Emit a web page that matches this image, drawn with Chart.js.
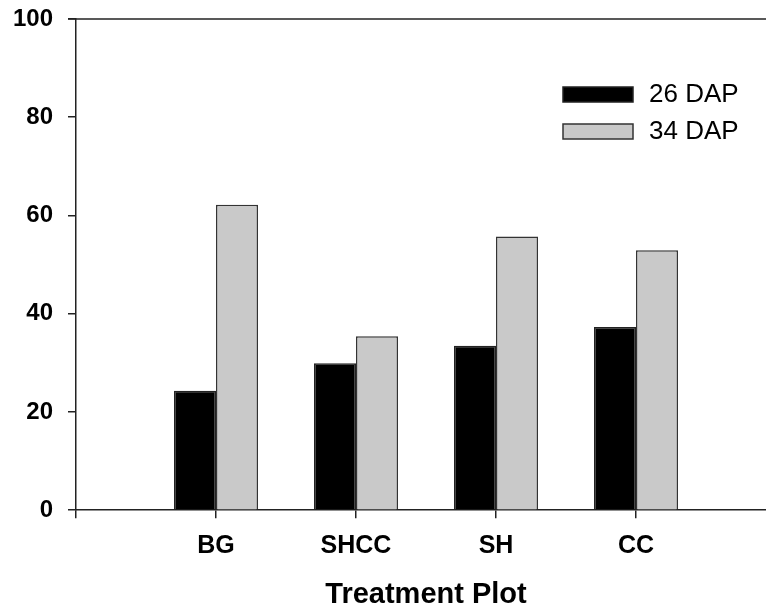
<!DOCTYPE html>
<html>
<head>
<meta charset="utf-8">
<script src="https://cdn.jsdelivr.net/npm/chart.js@4/dist/chart.umd.min.js"></script>
<style>
  html, body { margin: 0; padding: 0; background: #fff; overflow: hidden; }
  canvas { display: block; }
</style>
</head>
<body>
<canvas id="chart" width="776" height="613"></canvas>
<script>
const categories = ['BG', 'SHCC', 'SH', 'CC'];
const dap26 = [24.3, 29.9, 33.5, 37.3];
const dap34 = [62.2, 35.4, 55.7, 52.9];
const yTicks = [0, 20, 40, 60, 80, 100];

// empty slot on each side, like the original plot
const labels = ['', ...categories, ''];
const pad = arr => [null, ...arr, null];

const FONT = "'Liberation Sans', Arial, sans-serif";
const axisColor = '#222';

// frame line across the top of the plot + legend boxes
const extras = {
  id: 'extras',
  afterDraw(chart) {
    const { ctx, chartArea } = chart;
    ctx.save();
    ctx.strokeStyle = axisColor;
    ctx.lineWidth = 1.5;
    ctx.beginPath();
    ctx.moveTo(chartArea.left - 8, chartArea.top);
    ctx.lineTo(chartArea.right, chartArea.top);
    ctx.stroke();

    ctx.font = '26px ' + FONT;
    ctx.textBaseline = 'middle';
    chart.data.datasets.forEach((ds, i) => {
      const y = 87 + i * 37;
      ctx.fillStyle = ds.backgroundColor;
      ctx.fillRect(563, y, 70, 15);
      ctx.strokeStyle = ds.borderColor;
      ctx.lineWidth = 1.5;
      ctx.strokeRect(563, y, 70, 15);
      ctx.fillStyle = '#000';
      ctx.fillText(ds.label, 649, y + 8);
    });
    ctx.restore();
  }
};

new Chart(document.getElementById('chart'), {
  type: 'bar',
  data: {
    labels: labels,
    datasets: [
      { label: '26 DAP', data: pad(dap26), backgroundColor: '#000', borderColor: '#222', borderWidth: 1.5 },
      { label: '34 DAP', data: pad(dap34), backgroundColor: '#c9c9c9', borderColor: '#333', borderWidth: 1.5 }
    ]
  },
  options: {
    responsive: false,
    animation: false,
    layout: { padding: { top: 19, right: 0, bottom: 1, left: 0 } },
    datasets: { bar: { categoryPercentage: 0.6, barPercentage: 1 } },
    plugins: {
      legend: { display: false },
      tooltip: { enabled: false }
    },
    scales: {
      x: {
        offset: false,
        afterFit: s => { s.paddingLeft = 0; s.paddingRight = 0; },
        grid: { offset: false, drawOnChartArea: false, drawTicks: true, tickLength: 8, color: axisColor, lineWidth: 1.5 },
        border: { display: true, color: axisColor, width: 1.5 },
        ticks: { color: '#000', padding: 13, maxRotation: 0, autoSkip: false, font: { family: FONT, size: 25, weight: 'bold' } },
        title: { display: true, text: 'Treatment Plot', color: '#000', padding: { top: 3, bottom: 0 }, font: { family: FONT, size: 29, weight: 'bold' } }
      },
      y: {
        min: 0,
        max: 100,
        afterBuildTicks: s => { s.ticks = yTicks.map(v => ({ value: v })); },
        afterFit: s => { s.width = 76; s.paddingTop = 0; s.paddingBottom = 0; },
        grid: { drawOnChartArea: false, drawTicks: true, tickLength: 8, color: axisColor, lineWidth: 1.5 },
        border: { display: true, color: axisColor, width: 1.5 },
        ticks: { color: '#000', padding: 15, font: { family: FONT, size: 24, weight: 'bold' } }
      }
    }
  },
  plugins: [extras]
});
</script>
</body>
</html>
